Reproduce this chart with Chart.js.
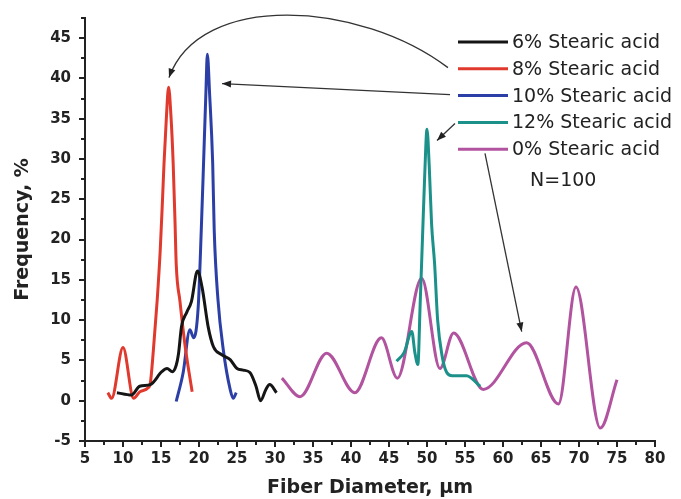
<!DOCTYPE html>
<html>
<head>
<meta charset="utf-8">
<script src="https://cdn.jsdelivr.net/npm/chart.js@4"></script>
<style>html,body{margin:0;padding:0;background:#fff}</style>
</head>
<body>
<canvas id="c" width="681" height="499"></canvas>
<script>
// Fiber diameter distributions
const labels = ['6% Stearic acid', '8% Stearic acid', '10% Stearic acid', '12% Stearic acid', '0% Stearic acid'];
const colors = ['#151515', '#e0392d', '#2c3fa6', '#1b918a', '#b2539f'];

const x6 = [9.2, 11.1, 12.2, 13.6, 15.1, 15.8, 16.5, 17.0, 17.3, 17.7, 18.4, 19.0, 19.8, 20.4, 21.2, 21.9, 23.0, 24.1, 25.0, 25.8, 26.7, 27.5, 28.1, 28.8, 29.3, 30.2];
const y6 = [1.0, 0.7, 1.8, 2.0, 3.6, 4.0, 3.6, 4.4, 5.8, 9.2, 11.0, 12.3, 16.1, 14.1, 9.2, 6.7, 5.7, 5.1, 4.0, 3.8, 3.5, 1.8, 0.0, 1.4, 2.0, 1.0];

const x8 = [8.0, 8.5, 10.0, 11.4, 12.2, 13.3, 13.6, 14.0, 14.5, 14.9, 15.2, 15.4, 15.7, 16.0, 16.3, 16.6, 16.85, 17.0, 17.5, 18.2, 19.1];
const y8 = [1.0, 0.3, 6.6, 0.3, 1.1, 1.6, 2.2, 6.3, 12.5, 18.7, 25.0, 29.5, 35.0, 38.9, 35.5, 29.5, 22.0, 17.0, 12.3, 6.6, 1.1];

const x10 = [17.0, 17.9, 18.8, 19.3, 19.9, 20.3, 20.6, 20.9, 21.1, 21.4, 21.8, 22.0, 22.5, 23.2, 24.1, 24.5, 24.9];
const y10 = [-0.1, 3.4, 8.8, 7.8, 11.7, 21.2, 29.5, 38.0, 43.0, 38.0, 29.5, 21.2, 12.5, 6.3, 1.4, 0.3, 1.0];

const x12 = [46.0, 47.0, 48.0, 48.4, 48.8, 49.1, 49.4, 49.7, 50.0, 50.3, 50.6, 51.0, 51.4, 52.0, 52.6, 53.3, 55.2, 57.0];
const y12 = [4.9, 6.0, 8.6, 6.0, 4.5, 12.0, 20.0, 28.0, 33.7, 29.0, 22.0, 17.0, 10.0, 5.5, 3.5, 3.1, 3.1, 1.8];

const x0 = [30.9, 33.3, 36.8, 40.5, 44.0, 46.1, 49.3, 51.7, 53.5, 57.4, 63.1, 67.3, 69.6, 72.8, 75.0];
const y0 = [2.8, 0.5, 5.9, 1.0, 7.8, 2.8, 15.2, 4.0, 8.4, 1.4, 7.2, -0.4, 14.1, -3.4, 2.6];

const xTicks = [5, 80];
const yTicks = [-5, 47.5];

// arrows in data units: tail -> tip (+ two control points for the curved one)
const arrows = [
  { from: [52.76, 41.34], c1: [41.18, 49.63], c2: [20.13, 50.87], to: [16.05, 40.10] },
  { from: [53.03, 38.0], to: [23.03, 39.36] },
  { from: [53.68, 34.41], to: [51.32, 32.30] },
  { from: [57.63, 30.69], to: [62.46, 8.58] }
];

const pts = (xs, ys) => xs.map((x, i) => ({ x: x, y: ys[i] }));
const series = [pts(x6, y6), pts(x8, y8), pts(x10, y10), pts(x12, y12), pts(x0, y0)];

const ink = '#222';
const FONT = 'DejaVu Sans';

const extras = {
  id: 'extras',
  afterDraw(chart) {
    const ctx = chart.ctx;
    const xs = chart.scales.x, ys = chart.scales.y;
    const area = chart.chartArea;
    ctx.save();
    // minor ticks
    ctx.strokeStyle = ink;
    ctx.lineWidth = 2;
    for (let v = 7.5; v < 80; v += 5) {
      const px = Math.round(xs.getPixelForValue(v));
      ctx.beginPath(); ctx.moveTo(px, area.bottom); ctx.lineTo(px, area.bottom + 4); ctx.stroke();
    }
    for (let v = -2.5; v <= 47.5; v += 5) {
      const py = Math.round(ys.getPixelForValue(v));
      ctx.beginPath(); ctx.moveTo(area.left, py); ctx.lineTo(area.left - 4, py); ctx.stroke();
    }

    // arrows
    const P = p => [xs.getPixelForValue(p[0]), ys.getPixelForValue(p[1])];
    ctx.strokeStyle = '#333';
    ctx.fillStyle = '#222';
    ctx.lineWidth = 1.3;
    arrows.forEach(a => {
      const f = P(a.from), t = P(a.to);
      let dir;
      ctx.beginPath();
      ctx.moveTo(f[0], f[1]);
      if (a.c1) {
        const c1 = P(a.c1), c2 = P(a.c2);
        ctx.bezierCurveTo(c1[0], c1[1], c2[0], c2[1], t[0], t[1]);
        dir = [t[0] - c2[0], t[1] - c2[1]];
      } else {
        ctx.lineTo(t[0], t[1]);
        dir = [t[0] - f[0], t[1] - f[1]];
      }
      ctx.stroke();
      const ang = Math.atan2(dir[1], dir[0]);
      const L = 9, W = 3.5;
      ctx.beginPath();
      ctx.moveTo(t[0], t[1]);
      ctx.lineTo(t[0] - L * Math.cos(ang) + W * Math.sin(ang), t[1] - L * Math.sin(ang) - W * Math.cos(ang));
      ctx.lineTo(t[0] - L * Math.cos(ang) - W * Math.sin(ang), t[1] - L * Math.sin(ang) + W * Math.cos(ang));
      ctx.closePath();
      ctx.fill();
    });

    // legend
    ctx.font = '19px "' + FONT + '"';
    ctx.textBaseline = 'middle';
    ctx.textAlign = 'left';
    chart.data.datasets.forEach((ds, i) => {
      const y = 42 + i * 26.8;
      ctx.strokeStyle = ds.borderColor;
      ctx.lineWidth = 3;
      ctx.beginPath(); ctx.moveTo(458, y); ctx.lineTo(508, y); ctx.stroke();
      ctx.fillStyle = ink;
      ctx.fillText(ds.label, 512, y + 1);
    });
    ctx.fillText('N=100', 530, 181);
    ctx.restore();
  }
};

new Chart(document.getElementById('c'), {
  type: 'line',
  data: {
    datasets: series.map((d, i) => ({
      label: labels[i],
      data: d,
      borderColor: colors[i],
      borderWidth: 3,
      pointRadius: 0,
      fill: false,
      cubicInterpolationMode: 'monotone'
    }))
  },
  options: {
    responsive: false,
    animation: false,
    devicePixelRatio: 1,
    layout: { padding: { left: 0, right: 26, top: 18, bottom: 0 } },
    plugins: { legend: { display: false }, tooltip: { enabled: false } },
    scales: {
      x: {
        type: 'linear',
        min: xTicks[0],
        max: xTicks[1],
        afterFit: s => { s.height = 58; },
        ticks: { stepSize: 5, color: ink, padding: 3, font: { family: FONT, size: 15, weight: 'bold' } },
        grid: { drawOnChartArea: false, drawTicks: true, tickLength: 6, color: ink, lineWidth: 2 },
        border: { display: true, color: ink, width: 2 },
        title: { display: true, text: 'Fiber Diameter, µm', color: ink, padding: { top: 0, bottom: 0 }, font: { family: FONT, size: 19, weight: 'bold' } }
      },
      y: {
        min: yTicks[0],
        max: yTicks[1],
        afterFit: s => { s.width = 85; },
        afterBuildTicks: s => { s.ticks = s.ticks.filter(t => t.value % 5 === 0); },
        ticks: { stepSize: 5, color: ink, padding: 8, font: { family: FONT, size: 15, weight: 'bold' } },
        grid: { drawOnChartArea: false, drawTicks: true, tickLength: 6, color: ink, lineWidth: 2 },
        border: { display: true, color: ink, width: 2 },
        title: { display: true, text: 'Frequency, %', color: ink, padding: { top: 12, bottom: 0 }, font: { family: FONT, size: 19, weight: 'bold' } }
      }
    }
  },
  plugins: [extras]
});
</script>
</body>
</html>
